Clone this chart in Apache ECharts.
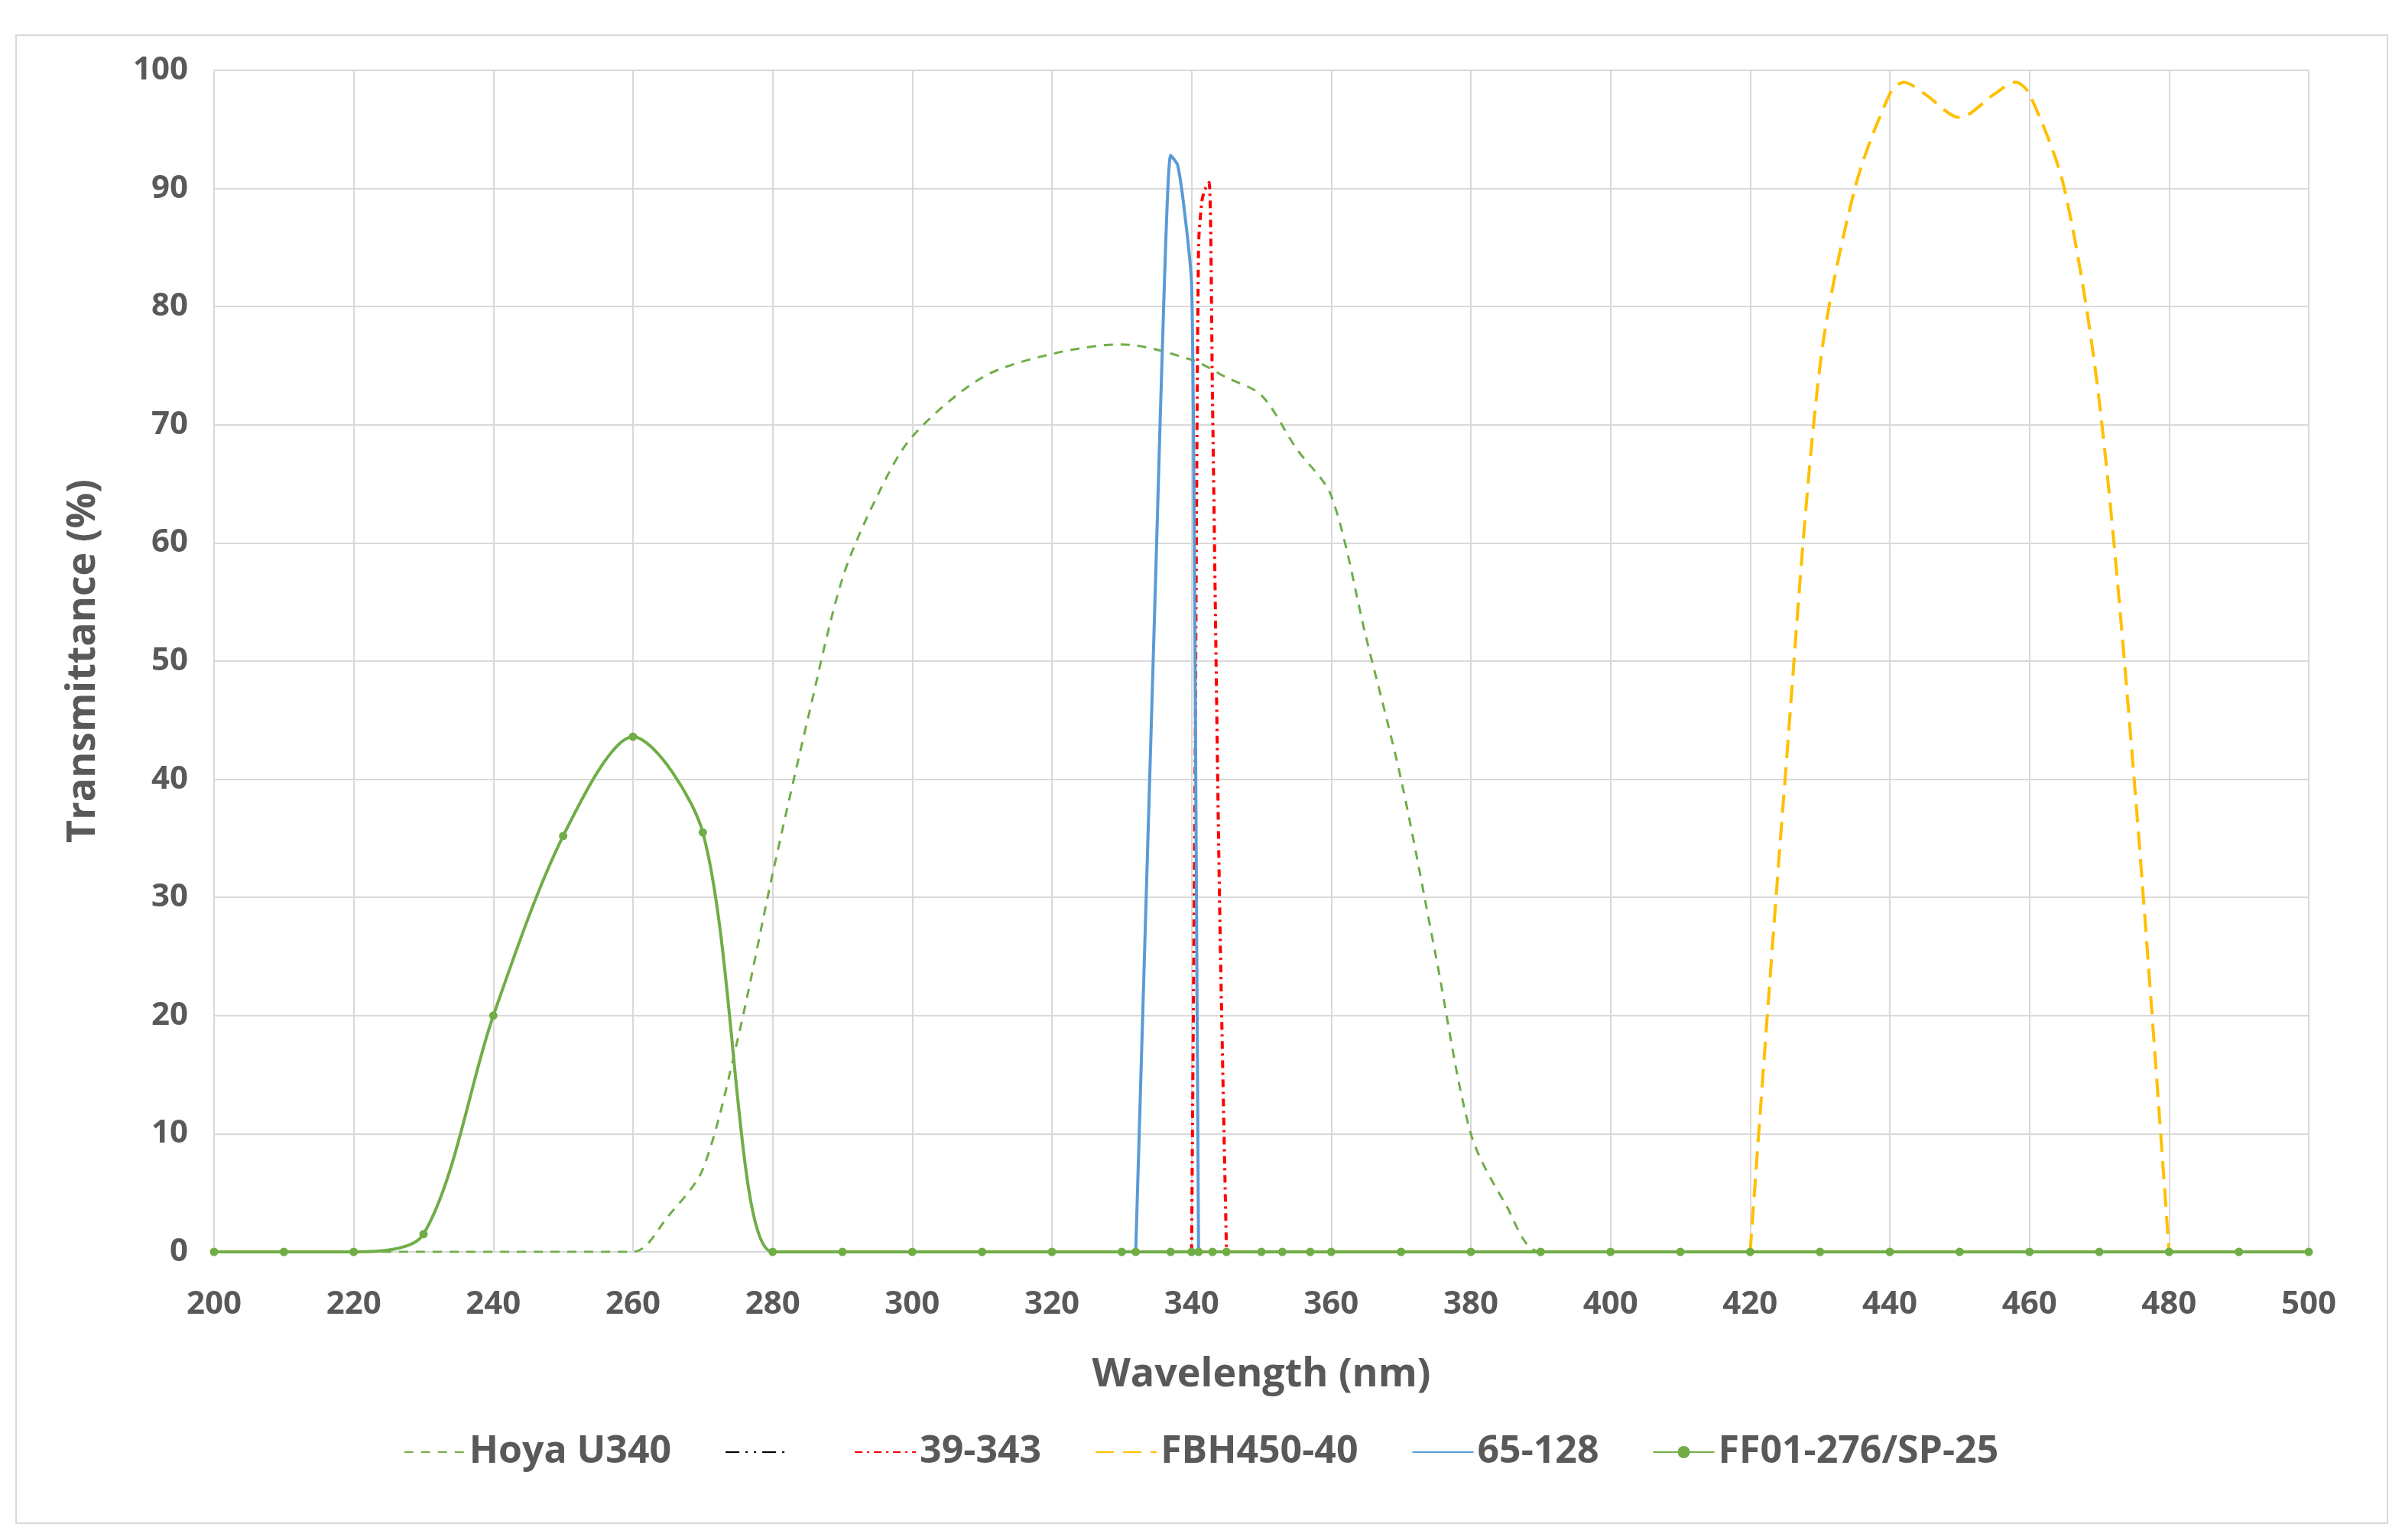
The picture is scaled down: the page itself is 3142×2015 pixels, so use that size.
<!DOCTYPE html>
<html><head><meta charset="utf-8">
<script src="https://cdn.jsdelivr.net/npm/echarts@6/dist/echarts.min.js"></script>
<style>html,body{margin:0;background:#fff}#c{width:3142px;height:2015px}</style>
</head><body><div id="c"></div>
<script>
// wavelength (nm) / transmittance (%) pairs
const hoya = [[200,0],[260,0],[265,3],[270,7],[275,18],[280,32],[285,45],[290,57],[295,64],[300,69],[310,74],[320,76],[330,76.8],[340,75.5],[345,74],[350,72.5],[355,68],[360,64],[365,52],[370,40],[375,25],[380,10],[385,4],[390,0],[500,0]];
const black = [];
const red39 = [[340,0],[340.5,40],[341,85],[341.5,89],[342,90],[342.5,90.5],[343,72],[344,30],[345,0]];
const fbh = [[420,0],[425,40],[430,75],[435,90],[440,98],[442,99],[445,98],[450,96],[455,98],[458,99],[460,98],[465,90],[470,72],[475,40],[480,0]];
const blue65 = [[332,0],[333,20],[335,60],[336,80],[337,92.8],[338,92],[339,88],[340,82],[340.4,60],[340.7,30],[341,0]];
const ff01 = [[200,0],[210,0],[220,0],[230,1.5],[240,20],[250,35.2],[260,43.6],[270,35.5],[280,0],[290,0],[300,0],[310,0],[320,0],[330,0],[332,0],[337,0],[340,0],[341,0],[343,0],[345,0],[350,0],[353,0],[357,0],[360,0],[370,0],[380,0],[390,0],[400,0],[410,0],[420,0],[430,0],[440,0],[450,0],[460,0],[470,0],[480,0],[490,0],[500,0]];

const txt = '#595959', font = 'Open Sans';
const noMark = { opacity: 0 };
const chart = echarts.init(document.getElementById('c'));
chart.setOption({
  animation: false,
  textStyle: { fontFamily: font },
  grid: { left: 280, right: 122, top: 92, bottom: 377 },
  xAxis: {
    type: 'value', min: 200, max: 500, interval: 20,
    name: 'Wavelength (nm)', nameLocation: 'middle', nameGap: 135,
    nameTextStyle: { color: txt, fontSize: 52, fontWeight: 'bold', fontFamily: font },
    axisLabel: { color: txt, fontSize: 42, fontWeight: 'bold', margin: 48 },
    axisLine: { lineStyle: { color: '#d9d9d9', width: 2 } }, axisTick: { show: false },
    splitLine: { lineStyle: { color: '#d9d9d9', width: 2 } }
  },
  yAxis: {
    type: 'value', min: 0, max: 100, interval: 10,
    name: 'Transmittance (%)', nameLocation: 'middle', nameGap: 145,
    nameTextStyle: { color: txt, fontSize: 52, fontWeight: 'bold', fontFamily: font },
    axisLabel: { color: txt, fontSize: 42, fontWeight: 'bold', margin: 34 },
    axisLine: { show: false }, axisTick: { show: false },
    splitLine: { lineStyle: { color: '#d9d9d9', width: 2 } }
  },
  legend: {
    top: 1870, left: 'center', itemGap: 70, itemWidth: 80, itemHeight: 20,
    textStyle: { color: txt, fontSize: 50, fontWeight: 'bold', fontFamily: font },
    data: [
      { name: 'Hoya U340', itemStyle: noMark },
      { name: ' ', itemStyle: noMark },
      { name: '39-343', itemStyle: noMark },
      { name: 'FBH450-40', itemStyle: noMark },
      { name: '65-128', itemStyle: noMark },
      { name: 'FF01-276/SP-25' }
    ]
  },
  series: [
    { name: 'Hoya U340', type: 'line', data: hoya, smooth: 0.3, symbol: 'none',
      lineStyle: { color: '#70ad47', width: 3, type: [12, 10] }, itemStyle: { color: '#70ad47' } },
    { name: ' ', type: 'line', data: black, symbol: 'none',
      lineStyle: { color: '#000', width: 4, type: [18, 8, 3, 8, 3, 8] }, itemStyle: { color: '#000' } },
    { name: '39-343', type: 'line', data: red39, smooth: 0.3, symbol: 'none',
      lineStyle: { color: '#ff0000', width: 4, type: [10, 6, 3, 6] }, itemStyle: { color: '#ff0000' } },
    { name: 'FBH450-40', type: 'line', data: fbh, smooth: 0.3, symbol: 'none',
      lineStyle: { color: '#ffc000', width: 4, type: [24, 12] }, itemStyle: { color: '#ffc000' } },
    { name: '65-128', type: 'line', data: blue65, smooth: 0.2, symbol: 'none',
      lineStyle: { color: '#5b9bd5', width: 4 }, itemStyle: { color: '#5b9bd5' } },
    { name: 'FF01-276/SP-25', type: 'line', data: ff01, smooth: 0.3, symbol: 'circle', symbolSize: 11,
      lineStyle: { color: '#70ad47', width: 4 }, itemStyle: { color: '#70ad47' } }
  ]
});
</script>
<div style="position:absolute;left:20px;top:45px;width:3100px;height:1945px;border:2px solid #d9d9d9;pointer-events:none"></div>
</body></html>
